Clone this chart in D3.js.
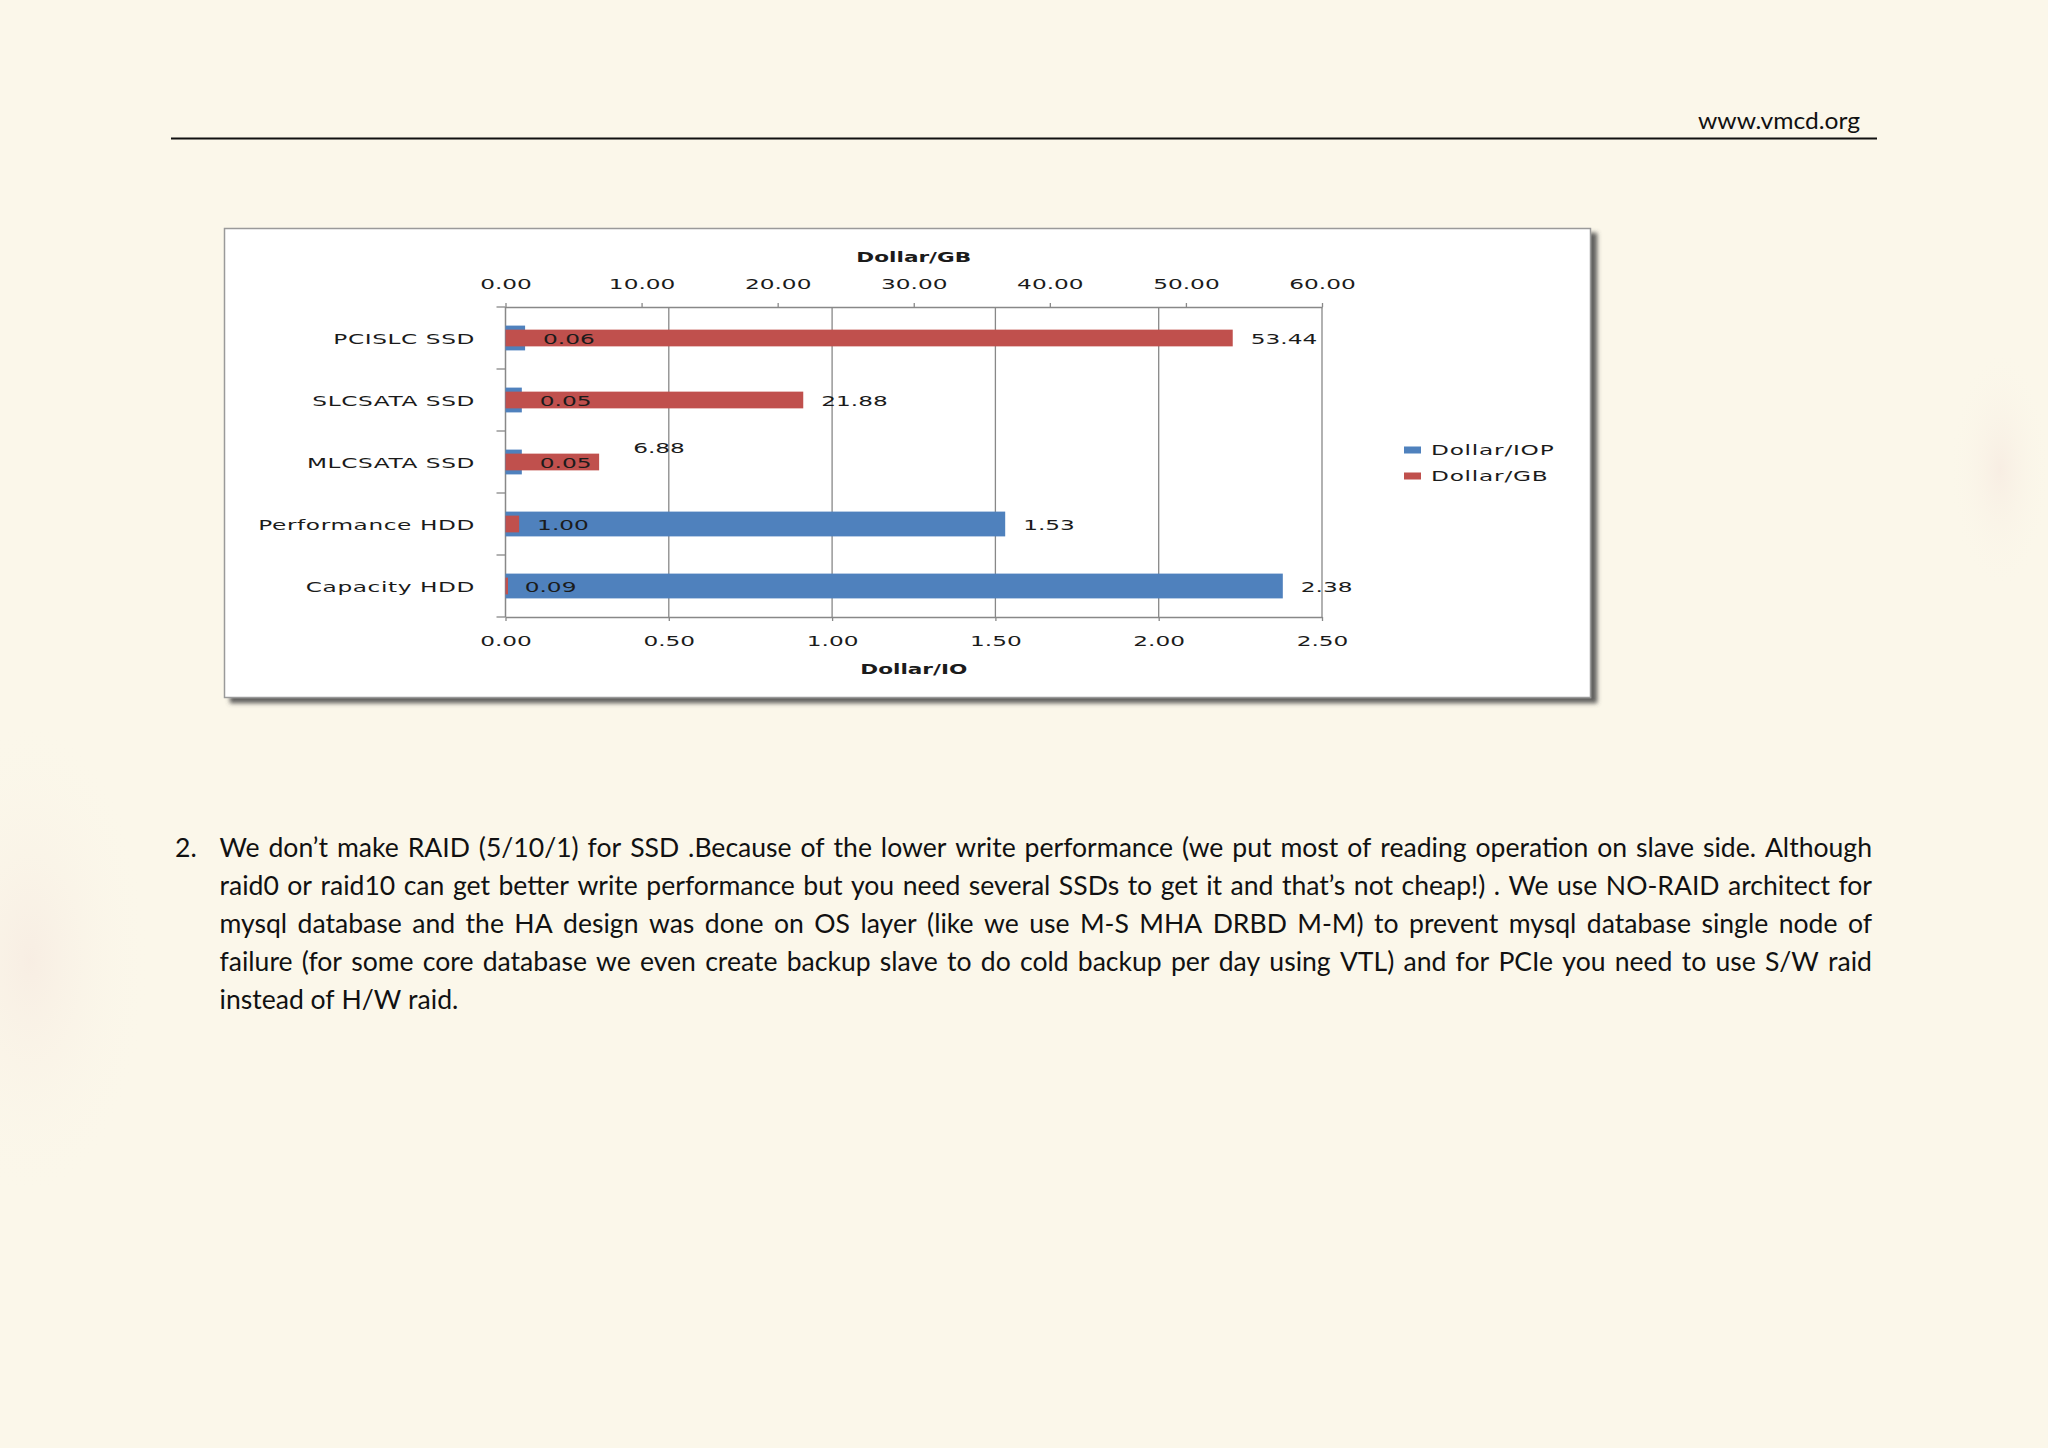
<!DOCTYPE html>
<html><head><meta charset="utf-8">
<script src="https://cdn.jsdelivr.net/npm/d3@7"></script>
<style>
html,body{margin:0;padding:0;background:#fbf7ea;}
svg{display:block;}
</style></head>
<body>
<svg id="page" width="2048" height="1448"></svg>
<script>
// ---------- data ----------
const categories = ["PCISLC SSD", "SLCSATA SSD", "MLCSATA SSD", "Performance HDD", "Capacity HDD"];
const dollarPerIOP = [0.06, 0.05, 0.05, 1.53, 2.38];
const dollarPerGB = [53.44, 21.88, 6.88, 1.00, 0.09];
const seriesNames = ["Dollar/IOP", "Dollar/GB"];
const ioTicks = [0, 0.5, 1.0, 1.5, 2.0, 2.5];
const gbTicks = [0, 10, 20, 30, 40, 50, 60];
const topTitle = "Dollar/GB";
const bottomTitle = "Dollar/IO";
const headerText = "www.vmcd.org";
const paragraphNumber = "2.";
const paragraphLines = [
  "We don’t make RAID (5/10/1) for SSD .Because of the lower write performance (we put most of reading operation on slave side. Although",
  "raid0 or raid10 can get better write performance but you need several SSDs to get it and that’s not cheap!) . We use NO-RAID architect for",
  "mysql database and the HA design was done on OS layer (like we use M-S MHA DRBD M-M) to prevent mysql database single node of",
  "failure (for some core database we even create backup slave to do cold backup per day using VTL) and for PCIe you need to use S/W raid",
  "instead of H/W raid."
];

// ---------- style ----------
const BLUE = "#4f81bd", RED = "#c0504d", GRID = "#888888", INK = "#1b1b1b";
const CF = "'DejaVu Sans', Verdana, sans-serif";
const FS = 13.5, SX = 1.72;

const svg = d3.select("#page");
const defs = svg.append("defs");
const f = defs.append("filter").attr("id","shadow").attr("x","-5%").attr("y","-5%").attr("width","115%").attr("height","115%");
f.append("feDropShadow").attr("dx",6).attr("dy",5).attr("stdDeviation",2.2).attr("flood-color","#4a4a4a").attr("flood-opacity",0.85);

// paper background
svg.append("rect").attr("width",2048).attr("height",1448).attr("fill","#fbf7ea");
const rg = defs.append("radialGradient").attr("id","blush");
rg.append("stop").attr("offset","0%").attr("stop-color","#f1dcd6").attr("stop-opacity",0.35);
rg.append("stop").attr("offset","100%").attr("stop-color","#fbf7ea").attr("stop-opacity",0);
svg.append("ellipse").attr("cx",30).attr("cy",960).attr("rx",120).attr("ry",240).attr("fill","url(#blush)");
svg.append("ellipse").attr("cx",2000).attr("cy",470).attr("rx",50).attr("ry",120).attr("fill","url(#blush)");

// header
svg.append("text").attr("x",1860).attr("y",129).attr("text-anchor","end")
  .attr("font-family","Lato, 'Open Sans', sans-serif").attr("font-size",24).attr("fill","#111")
  .attr("textLength",162).attr("lengthAdjust","spacingAndGlyphs").text(headerText);
svg.append("line").attr("x1",171).attr("x2",1877).attr("y1",138.5).attr("y2",138.5)
  .attr("stroke","#111").attr("stroke-width",2);

// chart frame
svg.append("rect").attr("x",224.5).attr("y",228.5).attr("width",1366).attr("height",469)
  .attr("fill","#ffffff").attr("stroke","#9a9a9a").attr("stroke-width",1.5).attr("filter","url(#shadow)");

// scales
const y = d3.scaleBand().domain(categories).range([307, 617]).padding(0);
const xIO = d3.scaleLinear().domain([0, 2.5]).range([505.5, 1322]);
const xGB = d3.scaleLinear().domain([0, 60]).range([505.5, 1322]);
const fmt = d3.format(".2f");

function stext(g, x, yy, txt, anchor, opts={}) {
  return g.append("text")
    .attr("transform", `translate(${x},${yy}) scale(${opts.sx||SX},1)`)
    .attr("text-anchor", anchor).attr("dy","0.36em")
    .attr("font-family", CF).attr("font-size", opts.fs||FS)
    .attr("font-weight", opts.bold ? "bold" : "normal")
    .attr("letter-spacing", opts.ls||0)
    .attr("fill", INK).text(txt);
}

const chart = svg.append("g");

// gridlines (from Dollar/IO axis)
chart.append("g").selectAll("line").data(ioTicks.filter(d=>d>0)).join("line")
  .attr("x1",d=>xIO(d)).attr("x2",d=>xIO(d)).attr("y1",y.range()[0]).attr("y2",y.range()[1])
  .attr("stroke",GRID).attr("stroke-width",1.3);

// bottom axis
const bAxis = chart.append("g").attr("transform",`translate(0,${y.range()[1]})`)
  .call(d3.axisBottom(xIO).tickValues(ioTicks).tickFormat(fmt).tickSizeInner(4).tickSizeOuter(0));
bAxis.select(".domain").attr("stroke",GRID).attr("stroke-width",1.3);
bAxis.selectAll(".tick line").attr("stroke",GRID).attr("stroke-width",1.3);
bAxis.selectAll(".tick text").attr("y",24).attr("dy","0.36em").attr("transform",`scale(${SX},1)`)
  .attr("font-family",CF).attr("font-size",FS).attr("fill",INK);

// top axis
const tAxis = chart.append("g").attr("transform",`translate(0,${y.range()[0]})`)
  .call(d3.axisTop(xGB).tickValues(gbTicks).tickFormat(fmt).tickSizeInner(4).tickSizeOuter(0));
tAxis.select(".domain").attr("stroke",GRID).attr("stroke-width",1.3);
tAxis.selectAll(".tick line").attr("stroke",GRID).attr("stroke-width",1.3);
tAxis.selectAll(".tick text").attr("y",-23).attr("dy","0.36em").attr("transform",`scale(${SX},1)`)
  .attr("font-family",CF).attr("font-size",FS).attr("fill",INK);

// left category axis
chart.append("line").attr("x1",xIO(0)).attr("x2",xIO(0)).attr("y1",y.range()[0]).attr("y2",y.range()[1])
  .attr("stroke",GRID).attr("stroke-width",1.5);
const bounds = categories.map(c=>y(c)).concat([y.range()[1]]);
chart.append("g").selectAll("line").data(bounds).join("line")
  .attr("x1",xIO(0)-9).attr("x2",xIO(0)).attr("y1",d=>d).attr("y2",d=>d)
  .attr("stroke",GRID).attr("stroke-width",1.3);
categories.forEach(c => stext(chart, 475, y(c)+y.bandwidth()/2 + 1, c, "end", {ls:0.35}));

// bars: Dollar/IOP (primary, thicker) then Dollar/GB on top
const bwBlue = y.bandwidth()*0.40, bwRed = y.bandwidth()*0.27;
chart.append("g").selectAll("rect").data(categories).join("rect")
  .attr("x",xIO(0)).attr("width",(c,i)=>xIO(dollarPerIOP[i])-xIO(0))
  .attr("y",c=>y(c)+y.bandwidth()/2-bwBlue/2).attr("height",bwBlue).attr("fill",BLUE);
chart.append("g").selectAll("rect").data(categories).join("rect")
  .attr("x",xGB(0)).attr("width",(c,i)=>Math.max(2.5,xGB(dollarPerGB[i])-xGB(0)))
  .attr("y",c=>y(c)+y.bandwidth()/2-bwRed/2).attr("height",bwRed).attr("fill",RED);

// data labels
const LGAP = 18;
const gbLabelNudge = {"MLCSATA SSD": [16, -15]};
categories.forEach((c,i)=>{
  const cy = y(c)+y.bandwidth()/2 + 1;
  stext(chart, xIO(dollarPerIOP[i])+LGAP, cy, fmt(dollarPerIOP[i]), "start");
  const n = gbLabelNudge[c] || [0,0];
  stext(chart, xGB(dollarPerGB[i])+LGAP+n[0], cy+n[1], fmt(dollarPerGB[i]), "start");
});

// axis titles
stext(chart, (xIO.range()[0]+xIO.range()[1])/2, 257, topTitle, "middle", {bold:true, sx:1.6});
stext(chart, (xIO.range()[0]+xIO.range()[1])/2, 669, bottomTitle, "middle", {bold:true, sx:1.6});

// legend
const leg = chart.append("g");
[BLUE, RED].forEach((col,i)=>{
  const ly = 450 + i*26;
  leg.append("rect").attr("x",1404).attr("y",ly-3.5).attr("width",17).attr("height",7).attr("fill",col);
  stext(leg, 1431, ly, seriesNames[i], "start", {ls:0.45});
});

// paragraph (justified)
const PF = "Lato, 'Open Sans', sans-serif";
const para = svg.append("g").attr("font-family",PF).attr("fill","#111");
const probe = para.append("text").attr("font-size",100).text(paragraphLines[paragraphLines.length-1]);
const fsP = 100*238/probe.node().getComputedTextLength();
probe.remove();
para.attr("font-size",fsP);
const LX = 219.5, RX = 1872, BASE0 = 857, LH = 37.9;
para.append("text").attr("x",175).attr("y",BASE0).text(paragraphNumber);
function wWidth(w){ const t = para.append("text").text(w); const l = t.node().getComputedTextLength(); t.remove(); return l; }
const spaceW = wWidth("a b") - wWidth("ab");
paragraphLines.forEach((line,li)=>{
  const words = line.split(" ");
  const widths = words.map(wWidth);
  const total = d3.sum(widths);
  const last = li === paragraphLines.length-1;
  const gap = last ? spaceW : (RX-LX-total)/(words.length-1);
  let x = LX;
  const t = para.append("text").attr("y", BASE0 + li*LH);
  words.forEach((w,wi)=>{ t.append("tspan").attr("x",x).text(w); x += widths[wi] + gap; });
});
</script>
</body></html>
